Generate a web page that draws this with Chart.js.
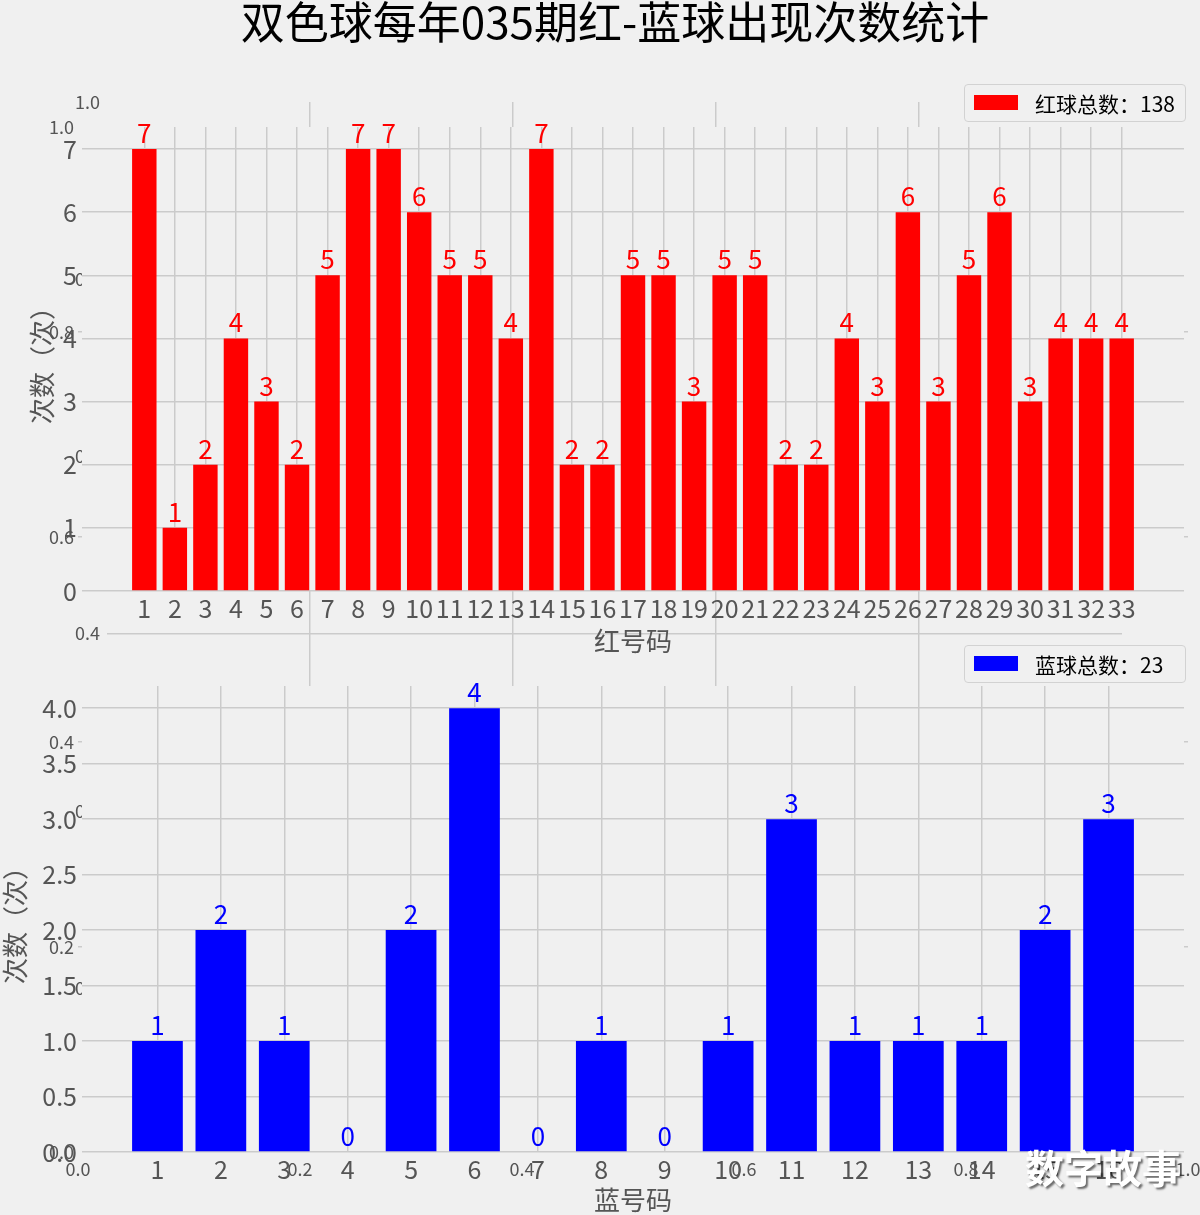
<!DOCTYPE html>
<html>
<head>
<meta charset="utf-8">
<script src="https://cdn.jsdelivr.net/npm/chart.js@4.4.0/dist/chart.umd.min.js"></script>
<style>
  html, body { margin: 0; padding: 0; background: #f0f0f0; }
  #page { position: relative; width: 1200px; height: 1215px; overflow: hidden;
          font-family: "Noto Sans CJK SC", sans-serif; }
  #page canvas { position: absolute; left: 0; top: 0; }
  .title { position: absolute; left: 0; width: 1230px; top: -5px; text-align: center;
           font-size: 44px; line-height: 50px; color: #000; }
  .legend { position: absolute; left: 964px; width: 220px; height: 36px;
            border: 1px solid #d2d2d2; border-radius: 4px; background: #f0f0f0; }
  .legend i { position: absolute; left: 9px; top: 10px; width: 44px; height: 15px; }
  .legend span { position: absolute; left: 70px; top: 0; line-height: 36px; font-size: 21px; color: #000; }
  .mark { position: absolute; left: 1025px; top: 1147px; font-size: 39px; line-height: 1;
          font-weight: bold; color: #fff; text-shadow: 2px 2px 2px rgba(0,0,0,0.55); }
</style>
</head>
<body>
<div id="page">
  <canvas id="bgB" width="1200" height="1215"></canvas>
  <canvas id="bgA" width="1200" height="1215"></canvas>
  <canvas id="red" width="1200" height="1215"></canvas>
  <canvas id="blue" width="1200" height="1215"></canvas>
  <div class="title">双色球每年035期红-蓝球出现次数统计</div>
  <div class="legend" style="top:84px"><i style="background:#ff0000"></i><span>红球总数：138</span></div>
  <div class="legend" style="top:645px"><i style="background:#0000ff"></i><span>蓝球总数：23</span></div>
  <div class="mark">数字故事</div>
</div>
<script>
// 数据
const redNumbers = [1,2,3,4,5,6,7,8,9,10,11,12,13,14,15,16,17,18,19,20,21,22,23,24,25,26,27,28,29,30,31,32,33];
const redCounts  = [7,1,2,4,3,2,5,7,7,6,5,5,4,7,2,2,5,5,3,5,5,2,2,4,3,6,3,5,6,3,4,4,4];
const blueNumbers = [1,2,3,4,5,6,7,8,9,10,11,12,13,14,15,16];
const blueCounts  = [1,2,1,0,2,4,0,1,0,1,3,1,1,1,2,3];
const redYTicks  = [0,1,2,3,4,5,6,7];
const blueYTicks = [0,0.5,1,1.5,2,2.5,3,3.5,4];
const bgTicks    = [0,0.2,0.4,0.6,0.8,1];

const W = 1200, H = 1215;
const FONT = '"Noto Sans CJK SC", sans-serif';
const GRID = '#cbcbcb';
const TXT = '#555555';

// 固定坐标轴尺寸，这样 chartArea 落在页面上的固定位置
const fixBox = (w, h) => s => {
  if (w != null) s.width = w;
  if (h != null) s.height = h;
  s.paddingLeft = s.paddingRight = s.paddingTop = s.paddingBottom = 0;
};
const setTicks = vals => s => { s.ticks = vals.map(v => ({ value: v })); };

// 只给绘图区涂底色（相当于 axes patch）
const areaFill = {
  id: 'areaFill',
  beforeDraw(c) {
    const a = c.chartArea, ctx = c.ctx;
    ctx.save();
    ctx.fillStyle = '#f0f0f0';
    ctx.fillRect(a.left, a.top, a.right - a.left, a.bottom - a.top);
    ctx.restore();
  }
};

// 柱顶数值
const valueLabels = {
  id: 'valueLabels',
  afterDatasetsDraw(c, args, opts) {
    const ctx = c.ctx, meta = c.getDatasetMeta(0), ds = c.data.datasets[0];
    ctx.save();
    ctx.fillStyle = opts.color;
    ctx.font = '26px ' + FONT;
    ctx.textAlign = 'center';
    ctx.textBaseline = 'alphabetic';
    meta.data.forEach((bar, i) => ctx.fillText(String(ds.data[i].y), bar.x, bar.y - 6));
    ctx.restore();
  }
};

function bgChart(id, area, gap) {
  const xH = 40;
  const gridColor = c => (c.tick && c.tick.value > 0.001 && c.tick.value < 0.999) ? GRID : 'rgba(0,0,0,0)';
  return new Chart(document.getElementById(id), {
    type: 'scatter',
    data: { datasets: [{ data: [] }] },
    options: {
      responsive: false, animation: false,
      layout: { padding: { left: 0, top: area.t, right: W - area.r, bottom: H - area.b - xH } },
      plugins: { legend: { display: false }, tooltip: { enabled: false } },
      scales: {
        x: {
          type: 'linear', min: 0, max: 1,
          afterBuildTicks: setTicks(bgTicks), afterFit: fixBox(null, xH),
          grid: { color: gridColor, lineWidth: 1.5, drawTicks: false }, border: { display: false },
          ticks: { font: { size: 18, family: FONT }, color: TXT, padding: 6, maxRotation: 0,
                   callback: v => v.toFixed(1) }
        },
        y: {
          type: 'linear', min: 0, max: 1,
          afterBuildTicks: setTicks(bgTicks), afterFit: fixBox(area.l, null),
          grid: { color: gridColor, lineWidth: 1.5, drawTicks: false }, border: { display: false },
          ticks: { font: { size: 18, family: FONT }, color: TXT, padding: gap,
                   callback: v => v.toFixed(1) }
        }
      }
    },
    plugins: [areaFill]
  });
}

function barChart(id, area, nums, counts, color, xMin, xMax, yMax, yTicks, yFmt, xTitle, xTitleY, yTitleX) {
  const xH = 64;
  const lh = 26;
  return new Chart(document.getElementById(id), {
    type: 'bar',
    data: {
      datasets: [{
        data: nums.map((n, i) => ({ x: n, y: counts[i] })),
        backgroundColor: color, barPercentage: 1, categoryPercentage: 0.8
      }]
    },
    options: {
      responsive: false, animation: false,
      layout: { padding: { left: 0, top: area.t, right: W - area.r, bottom: H - area.b - xH } },
      plugins: { legend: { display: false }, tooltip: { enabled: false }, valueLabels: { color } },
      scales: {
        x: {
          type: 'linear', min: xMin, max: xMax, offset: false,
          afterBuildTicks: setTicks(nums), afterFit: fixBox(null, xH),
          grid: { color: GRID, lineWidth: 1.5, drawTicks: false, offset: false }, border: { display: false },
          ticks: { font: { size: 25, family: FONT }, color: TXT, padding: 2, autoSkip: false, maxRotation: 0 },
          title: { display: true, text: xTitle, color: TXT,
                   font: { size: 26, family: FONT, lineHeight: 1 },
                   padding: { top: 0, bottom: area.b + xH - lh / 2 - xTitleY } }
        },
        y: {
          type: 'linear', min: 0, max: yMax,
          afterBuildTicks: setTicks(yTicks), afterFit: fixBox(area.l, null),
          grid: { color: GRID, lineWidth: 1.5, drawTicks: false }, border: { display: false },
          ticks: { font: { size: 25, family: FONT }, color: TXT, padding: 5, callback: yFmt },
          title: { display: true, text: '次数（次）', color: TXT,
                   font: { size: 26, family: FONT, lineHeight: 1 },
                   padding: { top: yTitleX - lh / 2, bottom: 0 } }
        }
      }
    },
    plugins: [areaFill, valueLabels]
  });
}

bgChart('bgB', { l: 78, t: 127, r: 1188, b: 1152 }, 4);
bgChart('bgA', { l: 107, t: 102, r: 1122, b: 988 }, 7);
barChart('red', { l: 82, t: 127, r: 1184, b: 591 }, redNumbers, redCounts, '#ff0000',
         -1.04, 35.04, 7.35, redYTicks, v => String(v), '红号码', 641, 42);
barChart('blue', { l: 82, t: 686, r: 1184, b: 1152 }, blueNumbers, blueCounts, '#0000ff',
         -0.19, 17.19, 4.2, blueYTicks, v => v.toFixed(1), '蓝号码', 1200, 15);
</script>
</body>
</html>
